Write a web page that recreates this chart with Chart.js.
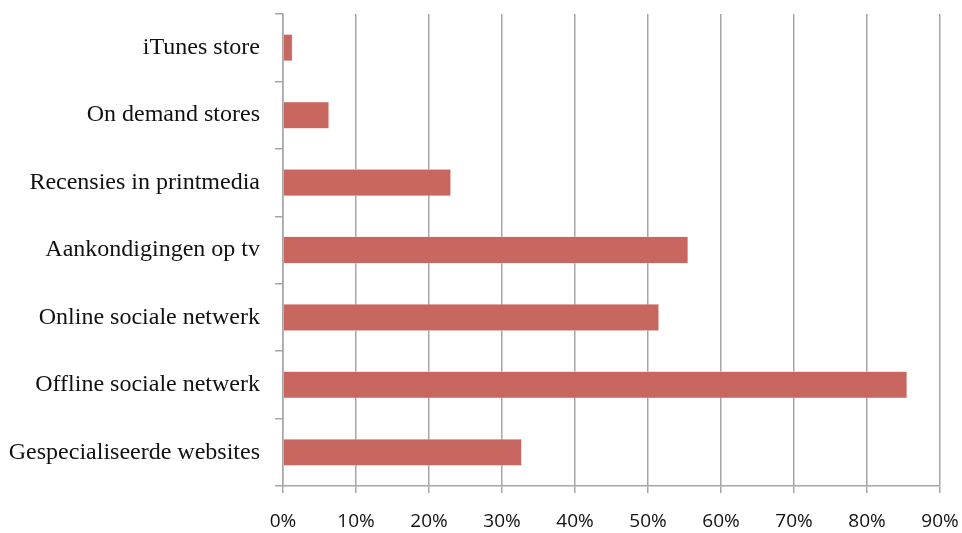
<!DOCTYPE html>
<html>
<head>
<meta charset="utf-8">
<script src="https://cdn.jsdelivr.net/npm/chart.js@4"></script>
<style>
    html, body { margin: 0; padding: 0; background: #fff; }
    #wrap { width: 962px; height: 533px; }
</style>
</head>
<body>
<div id="wrap"><canvas id="mediaChart" width="962" height="533"></canvas></div>
<script>
// Categories, top to bottom
const categories = [
    'iTunes store',
    'On demand stores',
    'Recensies in printmedia',
    'Aankondigingen op tv',
    'Online sociale netwerk',
    'Offline sociale netwerk',
    'Gespecialiseerde websites'
];

// Share of respondents (%)
const shares = [1.3, 6.3, 23.0, 55.5, 51.5, 85.5, 32.7];

// X axis ticks
const xTicks = [0, 10, 20, 30, 40, 50, 60, 70, 80, 90];

const axisGrey = '#a6a6a6';

const ctx = document.getElementById('mediaChart').getContext('2d');

new Chart(ctx, {
    type: 'bar',
    data: {
        labels: categories,
        datasets: [{
            data: shares,
            backgroundColor: '#c86660',
            borderColor: '#f0c8c4',
            borderWidth: 0.6,
            borderSkipped: 'left',
            barPercentage: 0.4,
            categoryPercentage: 1
        }]
    },
    options: {
        indexAxis: 'y',
        responsive: false,
        animation: false,
        layout: {
            padding: { top: 14, right: 22, bottom: 0, left: 0 }
        },
        scales: {
            x: {
                min: xTicks[0],
                max: xTicks[xTicks.length - 1],
                afterBuildTicks: function (axis) {
                    axis.ticks = xTicks.map(v => ({ value: v }));
                },
                afterFit: function (axis) {
                    // keep the 90% label overhanging the right edge
                    axis.height = 47;
                    axis.paddingLeft = 0;
                    axis.paddingRight = 0;
                },
                grid: {
                    color: axisGrey,
                    lineWidth: 1.5,
                    drawTicks: true,
                    tickLength: 7
                },
                border: { color: axisGrey, width: 1.5 },
                ticks: {
                    padding: 17,
                    color: '#111',
                    font: { family: '"Open Sans", sans-serif', size: 19 },
                    callback: function (v) { return v + '%'; }
                }
            },
            y: {
                afterFit: function (axis) {
                    axis.width = 283;
                    axis.paddingTop = 0;
                    axis.paddingBottom = 0;
                },
                grid: {
                    offset: true,
                    drawOnChartArea: false,
                    drawTicks: true,
                    tickLength: 8,
                    color: axisGrey,
                    lineWidth: 1.5
                },
                border: { color: axisGrey, width: 1.5 },
                ticks: {
                    padding: 15,
                    color: '#111',
                    font: { family: '"Liberation Serif", "DejaVu Serif", serif', size: 24 }
                }
            }
        },
        plugins: {
            legend: { display: false },
            tooltip: { enabled: false }
        }
    }
});
</script>
</body>
</html>
